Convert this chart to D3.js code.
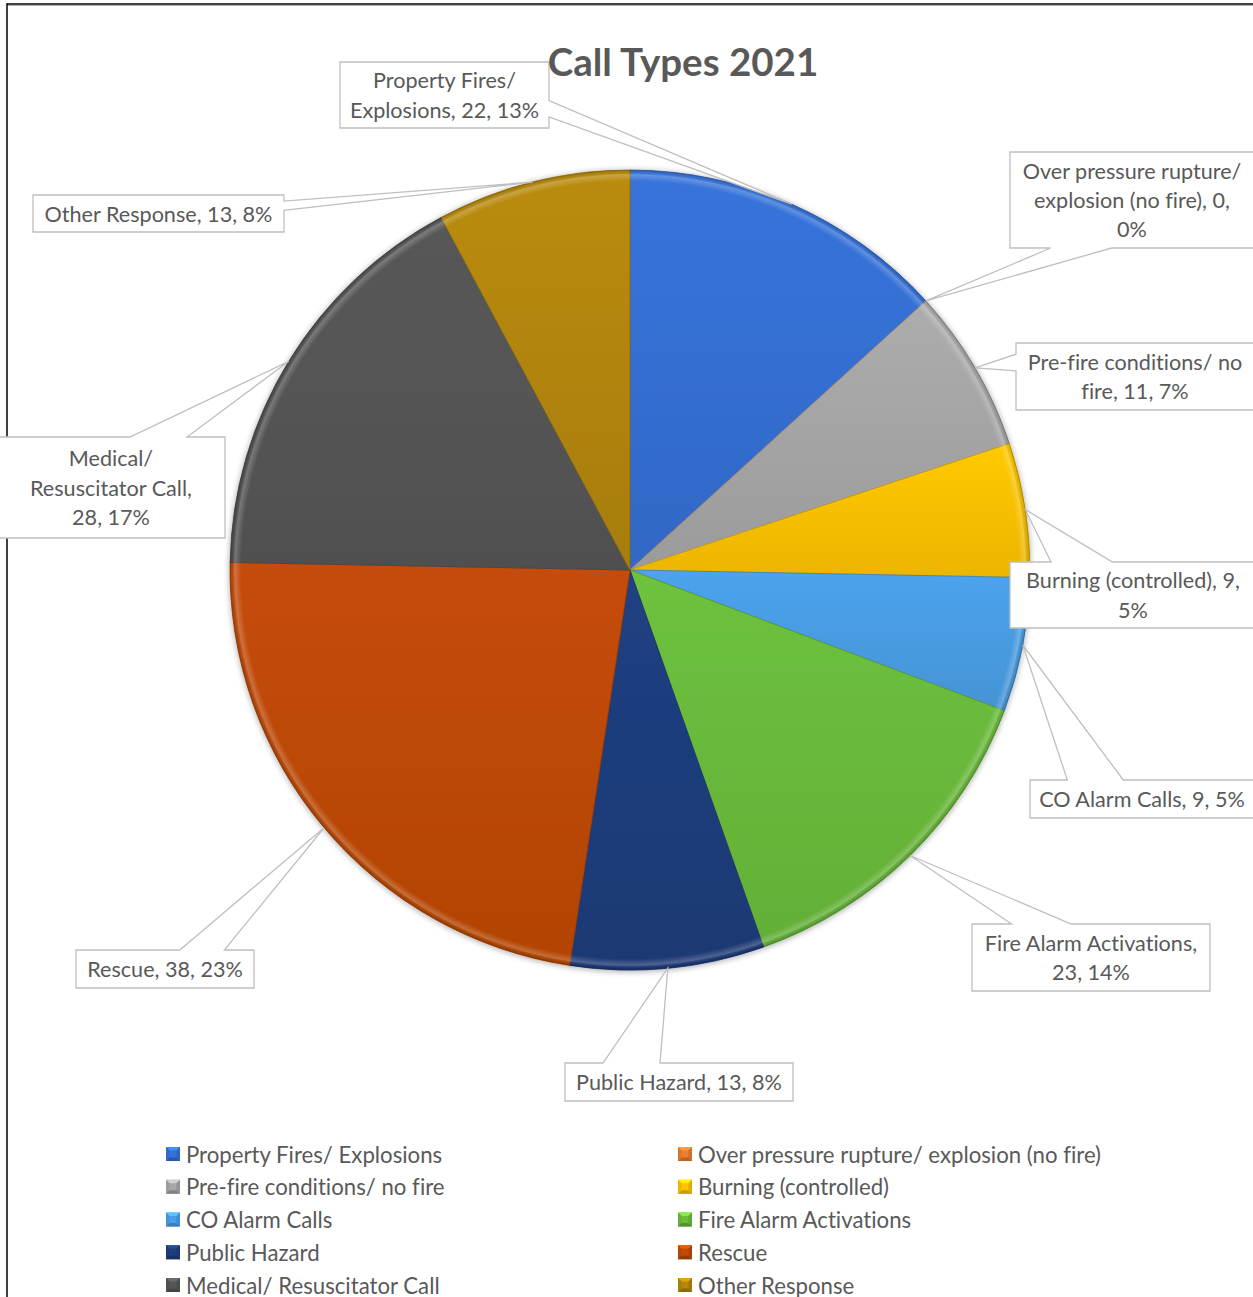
<!DOCTYPE html>
<html>
<head>
<meta charset="utf-8">
<script src="https://cdn.jsdelivr.net/npm/d3@7"></script>
<style>
  html, body { margin: 0; padding: 0; background: #fff; }
  svg { display: block; font-family: Lato, "Open Sans", sans-serif; font-variant-ligatures: none; }
</style>
</head>
<body>
<svg id="chart" width="1253" height="1297"></svg>
<script>
// Call types, 2021
const categories = [
  "Property Fires/ Explosions",
  "Over pressure rupture/ explosion (no fire)",
  "Pre-fire conditions/ no fire",
  "Burning (controlled)",
  "CO Alarm Calls",
  "Fire Alarm Activations",
  "Public Hazard",
  "Rescue",
  "Medical/ Resuscitator Call",
  "Other Response"
];
const callCounts = [22, 0, 11, 9, 9, 23, 13, 38, 28, 13];
const sliceColors = [
  "#3571d6", "#ed7d31", "#a8a8a8", "#ffc400", "#4a9fe6",
  "#6bbd3c", "#1f3e7e", "#c04a07", "#565656", "#b5870a"
];

// Callout boxes: box rectangle, side the pointer leaves from, words per text line
const callouts = [
  { x: 340,  y: 62,   w: 209, h: 66,  side: "right",  lines: [2, 3] },
  { x: 1010, y: 152,  w: 244, h: 96,  side: "bottom", lines: [3, 4, 1] },
  { x: 1016, y: 343,  w: 238, h: 67,  side: "left",   lines: [3, 3] },
  { x: 1010, y: 562,  w: 246, h: 66,  side: "top",    lines: [3, 1] },
  { x: 1030, y: 780,  w: 224, h: 38,  side: "top",    lines: [5] },
  { x: 972,  y: 924,  w: 238, h: 67,  side: "top",    lines: [3, 2] },
  { x: 565,  y: 1063, w: 228, h: 38,  side: "top",    lines: [4] },
  { x: 76,   y: 950,  w: 178, h: 38,  side: "top",    lines: [3] },
  { x: -3,   y: 437,  w: 228, h: 101, side: "top",    lines: [1, 2, 2] },
  { x: 33,   y: 195,  w: 251, h: 37,  side: "right",  lines: [4] }
];

const svg = d3.select("#chart");
const W = 1253, H = 1297;
const cx = 630, cy = 570, R = 400;
const textColor = "#595959";
const total = d3.sum(callCounts);

const defs = svg.append("defs");

// soft shadow around the pie
const shadow = defs.append("filter").attr("id", "pieShadow")
  .attr("x", "-10%").attr("y", "-10%").attr("width", "120%").attr("height", "120%");
shadow.append("feGaussianBlur").attr("in", "SourceAlpha").attr("stdDeviation", 3).attr("result", "b");
shadow.append("feOffset").attr("in", "b").attr("dx", 0).attr("dy", 1).attr("result", "o");
shadow.append("feComponentTransfer").attr("in", "o").attr("result", "s")
  .append("feFuncA").attr("type", "linear").attr("slope", 0.35);
const merge = shadow.append("feMerge");
merge.append("feMergeNode").attr("in", "s");
merge.append("feMergeNode").attr("in", "SourceGraphic");

// per-slice vertical shading
sliceColors.forEach((c, i) => {
  const g = defs.append("linearGradient").attr("id", "sg" + i)
    .attr("x1", 0).attr("y1", 0).attr("x2", 0).attr("y2", 1);
  g.append("stop").attr("offset", 0).attr("stop-color", d3.color(c).brighter(0.08));
  g.append("stop").attr("offset", 1).attr("stop-color", d3.color(c).darker(0.22));
});

// rim bevel highlight
const rim = defs.append("radialGradient").attr("id", "rimBevel")
  .attr("gradientUnits", "userSpaceOnUse").attr("cx", 0).attr("cy", 0).attr("r", R);
rim.append("stop").attr("offset", 0.972).attr("stop-color", "#fff").attr("stop-opacity", 0);
rim.append("stop").attr("offset", 0.988).attr("stop-color", "#fff").attr("stop-opacity", 0.22);
rim.append("stop").attr("offset", 0.996).attr("stop-color", "#000").attr("stop-opacity", 0.08);
rim.append("stop").attr("offset", 1).attr("stop-color", "#000").attr("stop-opacity", 0.25);

// frame lines
svg.append("line").attr("x1", 7).attr("x2", W).attr("y1", 4).attr("y2", 4)
  .attr("stroke", "#000").attr("stroke-width", 1.5);
svg.append("line").attr("x1", 7).attr("x2", W).attr("y1", 5.5).attr("y2", 5.5)
  .attr("stroke", "#b0b0b0").attr("stroke-width", 1);
svg.append("line").attr("x1", 7).attr("x2", 7).attr("y1", 3.3).attr("y2", H)
  .attr("stroke", "#000").attr("stroke-width", 1.5);

// pie
const pie = d3.pie().sort(null).value(d => d)
  .startAngle(0).endAngle(2 * Math.PI);
const arcs = pie(callCounts);
const arc = d3.arc().innerRadius(0).outerRadius(R);

const pieG = svg.append("g").attr("transform", `translate(${cx},${cy})`);
const slicesG = pieG.append("g").attr("filter", "url(#pieShadow)");
slicesG.selectAll("path.slice").data(arcs).join("path")
  .attr("class", "slice")
  .attr("d", arc)
  .attr("fill", (d, i) => `url(#sg${i})`)
  .attr("stroke", (d, i) => d3.color(sliceColors[i]).darker(0.6))
  .attr("stroke-width", 0.8)
  .attr("stroke-linejoin", "round");

pieG.append("circle").attr("r", R).attr("fill", "url(#rimBevel)").attr("pointer-events", "none");

// callouts
function calloutPath(b, apex) {
  const x0 = b.x, y0 = b.y, x1 = b.x + b.w, y1 = b.y + b.h;
  const ctrX = b.x + b.w / 2, ctrY = b.y + b.h / 2;
  const p = [];
  if (b.side === "top" || b.side === "bottom") {
    const f = apex[0] < ctrX ? [1 / 6, 5 / 12] : [7 / 12, 5 / 6];
    const bx1 = x0 + f[0] * b.w, bx2 = x0 + f[1] * b.w;
    if (b.side === "top") {
      p.push([x0, y0], [bx1, y0], apex, [bx2, y0], [x1, y0], [x1, y1], [x0, y1]);
    } else {
      p.push([x0, y0], [x1, y0], [x1, y1], [bx2, y1], apex, [bx1, y1], [x0, y1]);
    }
  } else {
    const f = apex[1] < ctrY ? [1 / 6, 5 / 12] : [7 / 12, 5 / 6];
    const by1 = y0 + f[0] * b.h, by2 = y0 + f[1] * b.h;
    if (b.side === "right") {
      p.push([x0, y0], [x1, y0], [x1, by1], apex, [x1, by2], [x1, y1], [x0, y1]);
    } else {
      p.push([x0, y0], [x1, y0], [x1, y1], [x0, y1], [x0, by2], apex, [x0, by1]);
    }
  }
  return "M" + p.map(q => q.join(",")).join("L") + "Z";
}

const labelG = svg.append("g");
arcs.forEach((a, i) => {
  const b = callouts[i];
  const mid = (a.startAngle + a.endAngle) / 2;
  const apex = [cx + R * Math.sin(mid), cy - R * Math.cos(mid)];
  labelG.append("path")
    .attr("d", calloutPath(b, apex))
    .attr("fill", "#fff")
    .attr("stroke", "#bfbfbf")
    .attr("stroke-width", 1.3)
    .attr("stroke-linejoin", "miter");

  const pct = Math.round(callCounts[i] / total * 100);
  const words = `${categories[i]}, ${callCounts[i]}, ${pct}%`.split(" ");
  const lines = [];
  let k = 0;
  b.lines.forEach(n => { lines.push(words.slice(k, k + n).join(" ")); k += n; });
  const lh = 29.3;
  const top = b.y + b.h / 2 - (lines.length - 1) * lh / 2;
  const t = labelG.append("text")
    .attr("text-anchor", "middle")
    .attr("fill", textColor)
    .attr("font-size", 21.6)
    .attr("dominant-baseline", "central");
  lines.forEach((ln, j) => {
    t.append("tspan").attr("x", b.x + b.w / 2).attr("y", top + j * lh).text(ln);
  });
});

// title
svg.append("text")
  .attr("x", 683).attr("y", 76)
  .attr("text-anchor", "middle")
  .attr("font-size", 38.5)
  .attr("font-weight", "bold")
  .attr("fill", textColor)
  .text("Call Types 2021");

// legend, two columns
const legendCols = [166, 678];
const legendRow0 = 1154, legendDy = 32.75;
const legG = svg.append("g");
categories.forEach((name, i) => {
  const col = i % 2, row = Math.floor(i / 2);
  const x = legendCols[col], y = legendRow0 + row * legendDy;
  const s = 14, bv = 3.5;
  const g = legG.append("g").attr("transform", `translate(${x},${y - s / 2})`);
  const c = d3.color(sliceColors[i]);
  g.append("rect").attr("width", s).attr("height", s).attr("fill", c);
  // bevel facets
  g.append("path").attr("d", `M0,0L${s},0L${s - bv},${bv}L${bv},${bv}Z`).attr("fill", c.brighter(0.6));
  g.append("path").attr("d", `M0,${s}L${s},${s}L${s - bv},${s - bv}L${bv},${s - bv}Z`).attr("fill", c.darker(0.7));
  g.append("path").attr("d", `M0,0L${bv},${bv}L${bv},${s - bv}L0,${s}Z`).attr("fill", c.darker(0.2));
  g.append("path").attr("d", `M${s},0L${s - bv},${bv}L${s - bv},${s - bv}L${s},${s}Z`).attr("fill", c.darker(0.35));
  legG.append("text")
    .attr("x", x + 20).attr("y", y)
    .attr("dominant-baseline", "central")
    .attr("font-size", 22.2)
    .attr("fill", textColor)
    .text(name);
});
</script>
</body>
</html>
